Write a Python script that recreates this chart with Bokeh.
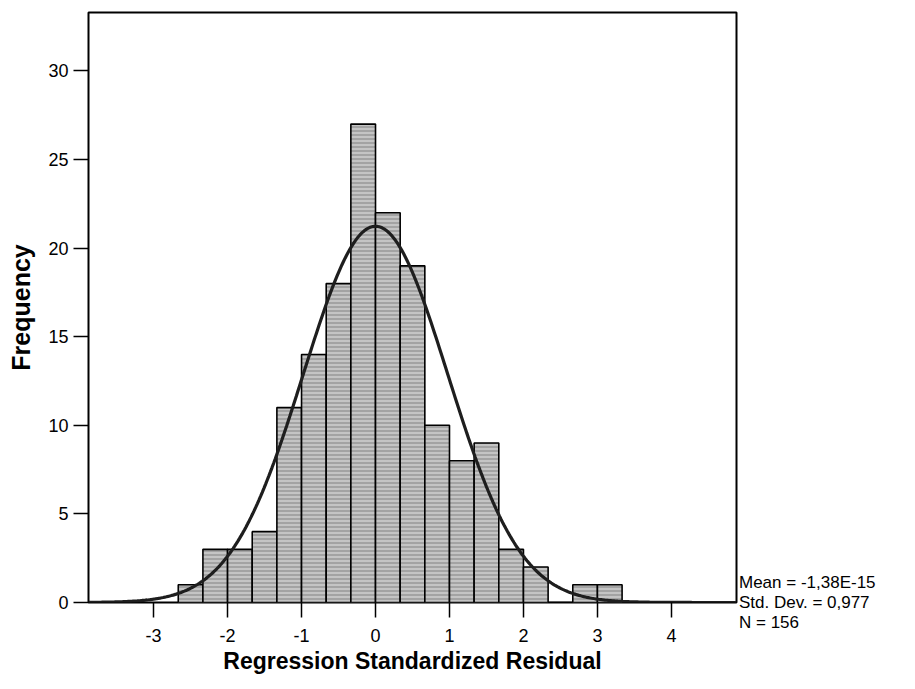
import numpy as np
from bokeh.plotting import figure
from bokeh.models import Range1d, FixedTicker, ColumnDataSource, Legend, LegendItem
from bokeh.embed import file_html
from bokeh.resources import INLINE

# ---- data ----
bin_left = [-8/3, -7/3, -6/3, -5/3, -4/3, -3/3, -2/3, -1/3, 0/3,
            1/3, 2/3, 3/3, 4/3, 5/3, 6/3, 7/3, 8/3, 9/3]
bin_right = [-7/3, -6/3, -5/3, -4/3, -3/3, -2/3, -1/3, 0/3, 1/3,
             2/3, 3/3, 4/3, 5/3, 6/3, 7/3, 8/3, 9/3, 10/3]
counts = [1, 3, 3, 4, 11, 14, 18, 27, 22, 19, 10, 8, 9, 3, 2, 0, 1, 1]

x_ticks = [-3, -2, -1, 0, 1, 2, 3, 4]
x_tick_labels = ["-3", "-2", "-1", "0", "1", "2", "3", "4"]
y_ticks = [0, 5, 10, 15, 20, 25, 30]

stat_mean = -1.38e-15
stat_sd = 0.977
stat_n = 156
stat_lines = ["Mean = -1,38E-15", "Std. Dev. = 0,977", "N = 156"]

x_min, x_max = -3.88, 4.88
y_min, y_max = 0, 33.3

FONT = "Liberation Sans"

p = figure(frame_width=648, frame_height=590, output_backend="svg", toolbar_location=None,
           x_range=Range1d(x_min, x_max), y_range=Range1d(y_min, y_max),
           min_border_left=88, min_border_right=164, min_border_top=12,
           min_border_bottom=60)
p.background_fill_color = "white"
p.border_fill_color = "white"
p.outline_line_color = "black"
p.outline_line_width = 2
p.xgrid.visible = False
p.ygrid.visible = False

src = ColumnDataSource(dict(left=bin_left, right=bin_right, top=counts, bottom=[0]*len(counts)))
p.quad(left="left", right="right", top="top", bottom="bottom", source=src,
       fill_color="#c4c4c4", line_color="black", line_width=1.6,
       hatch_pattern="horizontal_line", hatch_color="#4a4a4a", hatch_scale=4,
       hatch_weight=1, hatch_alpha=0.55)

# fitted normal curve from the chart's stated statistics
bin_w = bin_right[0] - bin_left[0]
xs = np.linspace(x_min, x_max, 400)
ys = stat_n * bin_w / (stat_sd * np.sqrt(2 * np.pi)) * np.exp(-0.5 * ((xs - stat_mean) / stat_sd) ** 2)
p.line(xs, ys, line_color="#1e1e1e", line_width=3.2)

# axes
for ax in (p.xaxis[0], p.yaxis[0]):
    ax.axis_line_color = None
    ax.major_tick_in = 0
    ax.minor_tick_line_color = None
    ax.major_tick_line_color = "black"
    ax.major_tick_line_width = 1.5
    ax.major_label_text_font = FONT
    ax.major_label_text_font_size = "18px"
    ax.major_label_text_color = "black"
    ax.axis_label_text_font = FONT
    ax.axis_label_text_font_style = "bold"
    ax.axis_label_text_color = "black"

p.xaxis.ticker = FixedTicker(ticks=x_ticks)
p.xaxis.major_label_overrides = {t: l for t, l in zip(x_ticks, x_tick_labels)}
p.yaxis.ticker = FixedTicker(ticks=y_ticks)
p.xaxis.major_tick_out = 15
p.yaxis.major_tick_out = 15
p.xaxis.major_label_standoff = 11
p.yaxis.major_label_standoff = 5
p.xaxis.axis_label = "Regression Standardized Residual"
p.yaxis.axis_label = "Frequency"
p.xaxis.axis_label_text_font_size = "23px"
p.yaxis.axis_label_text_font_size = "25px"
p.xaxis.axis_label_standoff = 3
p.yaxis.axis_label_standoff = 10

# statistics box text, as a glyph-less legend beside the frame
stats = Legend(items=[LegendItem(label=t, renderers=[]) for t in stat_lines],
               location=(0, -31), orientation="vertical",
               glyph_width=0, glyph_height=19, label_height=19, label_standoff=3,
               spacing=0, padding=0, margin=0,
               border_line_color=None, background_fill_alpha=0,
               label_text_font=FONT, label_text_font_size="17px",
               label_text_color="black")
p.add_layout(stats, "right")

open("out.html", "w").write(file_html(p, INLINE))
